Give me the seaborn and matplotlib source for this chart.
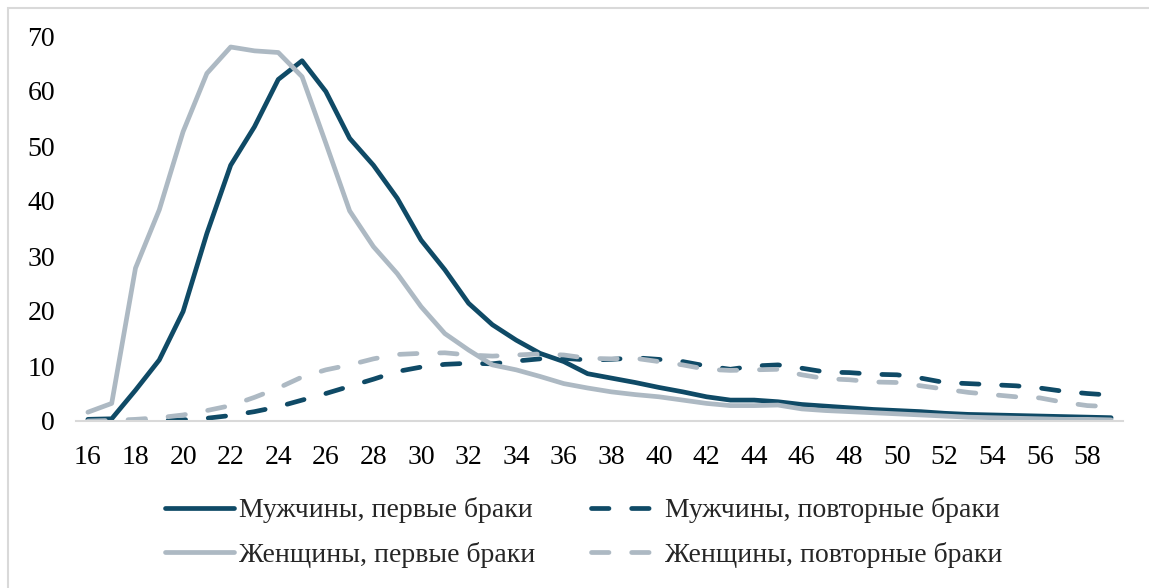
import matplotlib
matplotlib.use("Agg")
import matplotlib.pyplot as plt
from matplotlib.lines import Line2D
from matplotlib.patches import Rectangle
import pandas as pd
import seaborn as sns

# ages 16..59
ages = list(range(16, 60))

men_first = [0.3, 0.4, 5.6, 11.1, 19.9, 34.1, 46.5, 53.5, 62.1, 65.5,
             59.9, 51.4, 46.5, 40.5, 32.9, 27.5, 21.4, 17.5, 14.7, 12.3,
             10.8, 8.6, 7.8, 7.0, 6.1, 5.3, 4.4, 3.8, 3.8, 3.5,
             3.0, 2.7, 2.4, 2.1, 1.9, 1.7, 1.4, 1.2, 1.1, 1.0,
             0.9, 0.8, 0.7, 0.6]
men_repeat = [0.0, 0.0, 0.0, 0.1, 0.2, 0.5, 1.0, 1.7, 2.6, 3.8,
              5.0, 6.3, 7.6, 9.0, 9.8, 10.3, 10.5, 10.4, 10.9, 11.3,
              11.4, 11.1, 11.2, 11.5, 11.2, 10.8, 10.0, 9.4, 10.0, 10.2,
              9.6, 8.9, 8.8, 8.5, 8.4, 7.8, 7.0, 6.8, 6.6, 6.4,
              6.0, 5.4, 5.0, 4.7]
women_first = [1.6, 3.2, 27.8, 38.4, 52.6, 63.2, 68.0, 67.3, 67.0, 62.6,
               50.5, 38.2, 31.7, 26.8, 20.8, 15.9, 12.9, 10.2, 9.3, 8.1,
               6.8, 6.0, 5.3, 4.8, 4.4, 3.8, 3.2, 2.8, 2.8, 2.9,
               2.2, 1.9, 1.7, 1.5, 1.3, 1.1, 0.9, 0.7, 0.6, 0.5,
               0.4, 0.3, 0.3, 0.2]
women_repeat = [0.0, 0.1, 0.3, 0.6, 1.1, 1.9, 2.8, 4.3, 6.0, 8.0,
                9.3, 10.2, 11.3, 12.1, 12.3, 12.4, 12.0, 11.8, 12.0, 12.2,
                12.0, 11.4, 11.3, 11.4, 10.8, 10.2, 9.4, 9.2, 9.3, 9.4,
                8.4, 7.7, 7.5, 7.1, 7.0, 6.4, 5.8, 5.2, 4.8, 4.4,
                4.2, 3.4, 2.8, 2.6]

names = ["Мужчины, первые браки", "Мужчины, повторные браки",
         "Женщины, первые браки", "Женщины, повторные браки"]
dark = "#0f4a66"
light = "#adb9c3"
colors = {names[0]: dark, names[1]: dark, names[2]: light, names[3]: light}
dash_len = (3.7, 4.8)
dashes = {names[0]: "", names[1]: dash_len, names[2]: "", names[3]: dash_len}
lw = 3.4

frames = []
for name, vals in zip(names, [men_first, men_repeat, women_first, women_repeat]):
    frames.append(pd.DataFrame({"age": ages, "value": vals, "series": name}))
df = pd.concat(frames, ignore_index=True)

sns.set_style("white")
plt.rcParams['font.family'] = ['Liberation Serif', 'DejaVu Serif']

fig = plt.figure(figsize=(11.49, 5.88), dpi=100)
ax = fig.add_axes([76 / 1149, 1 - 421 / 588, (1123 - 76) / 1149, (421 - 36) / 588])

sns.lineplot(data=df, x="age", y="value", hue="series", style="series",
             hue_order=names, style_order=names, palette=colors, dashes=dashes,
             linewidth=lw, ax=ax, legend=False)
for ln in ax.lines:
    ln.set_dash_capstyle("round")
    ln.set_solid_capstyle("round")
    ln.set_solid_joinstyle("round")

ax.set_xlim(15.5, 59.5)
ax.set_ylim(0, 70)
ax.set_yticks(range(0, 71, 10))
ax.set_xticks(range(16, 59, 2))
ax.set_xlabel("")
ax.set_ylabel("")
for s in ["top", "right", "left"]:
    ax.spines[s].set_visible(False)
ax.spines["bottom"].set_color("#d9d9d9")
ax.spines["bottom"].set_linewidth(1.5)
ax.tick_params(axis="both", length=0, labelsize=20, colors="black")
ax.tick_params(axis="x", pad=17)
ax.tick_params(axis="y", pad=15)

order = [names[0], names[2], names[1], names[3]]
handles = []
for name in order:
    ls = "-" if dashes[name] == "" else (0, dash_len)
    handles.append(Line2D([0], [0], color=colors[name], lw=lw, linestyle=ls,
                          dash_capstyle="round", solid_capstyle="round"))
fig.legend(handles, order, ncol=2,
           loc="center", bbox_to_anchor=(0.508, 0.094), frameon=False,
           fontsize=20, handlelength=2.5, handletextpad=0.18,
           columnspacing=2.0, labelspacing=0.68)

fig.patches.append(Rectangle((8 / 1149, -0.05), 1.1, 1.05 - 8 / 588,
                             transform=fig.transFigure, fill=False,
                             edgecolor="#d9d9d9", lw=1.5))

fig.savefig("out.png", dpi=100)
